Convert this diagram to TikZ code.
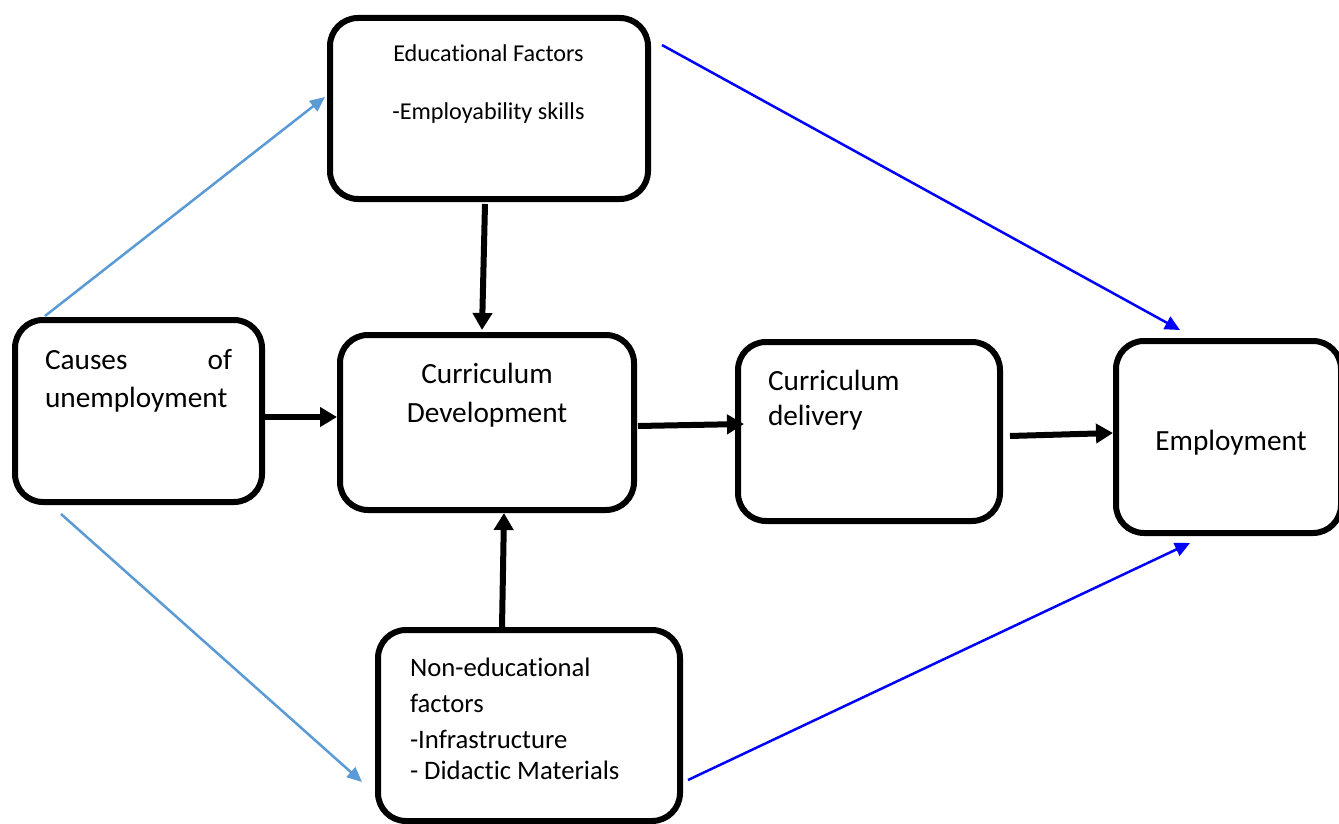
\documentclass[tikz,border=0pt]{standalone}
\usepackage{fontspec}
\setmainfont{Carlito}[Ligatures=NoCommon]
\usetikzlibrary{arrows.meta,calc}
\definecolor{lightblue}{HTML}{5B9BD5}
\definecolor{pureblue}{HTML}{0000FF}
\tikzset{
  box/.style={draw=black, line width=6pt, rounded corners=28pt, fill=white, outer sep=0pt, inner sep=0pt},
  txt/.style={inner sep=0pt, outer sep=0pt, text=black},
  blackarrow/.style={draw=black, line width=6pt, -{Triangle[length=17pt,width=19pt]}},
  lightarrow/.style={draw=lightblue, line width=2.5pt, -{Triangle[length=15pt,width=13pt]}},
  bluearrow/.style={draw=pureblue, line width=2.5pt, -{Triangle[length=15pt,width=14pt]}}
}
\begin{document}
\begin{tikzpicture}[x=1pt,y=-1pt]
\useasboundingbox (0,0) rectangle (1339,824);
\fill[white] (0,0) rectangle (1339,824);

% boxes
\node[box, minimum width=247pt, minimum height=182pt] (causes) at (138.5,411) {};
\node[box, minimum width=318pt, minimum height=181pt] (edu) at (489,108.5) {};
\node[box, minimum width=294pt, minimum height=175pt] (cd) at (487,422.5) {};
\node[box, minimum width=262pt, minimum height=179pt] (del) at (869,431.5) {};
\node[box, minimum width=225pt, minimum height=192pt] (emp) at (1228.5,437) {};
\node[box, minimum width=302pt, minimum height=191pt] (non) at (529,725.5) {};

% texts (base anchor = baseline of the last line)
\node[txt, anchor=base west, align=left, font=\fontsize{29.3}{38}\selectfont] (causestxt) at (45,407)
  {\hbox to 187pt{Causes\hfill of}\\unemployment};
\node[txt, font=\fontsize{24.2}{29}\selectfont, anchor=base, align=center] (edutxt) at (488.5,120)
  {Educational Factors\\[29pt]-Employability skills};
\node[txt, anchor=base, align=center, font=\fontsize{29.3}{39}\selectfont] (cdtxt) at (487,422)
  {Curriculum\\Development};
\node[txt, anchor=base west, align=left, font=\fontsize{29.3}{35}\selectfont] (deltxt) at (768,425)
  {Curriculum\\delivery};
\node[txt, anchor=base, font=\fontsize{29.3}{38}\selectfont] (emptxt) at (1231,450) {Employment};
\node[txt, anchor=base west, align=left, font=\fontsize{26.7}{36}\selectfont] (nontxt) at (410,779)
  {Non-educational\\factors\\-Infrastructure\\[-5pt]- Didactic Materials};

% black connectors
\draw[blackarrow] ($(causes.east)+(3,6)$) -- ($(cd.west)+(-3,-5.5)$);
\draw[blackarrow] ($(cd.east)+(4,3.5)$) -- ($(del.west)+(6,-7.5)$);
\draw[blackarrow] ($(del.east)+(10,4.5)$) -- ($(emp.west)+(-3,-4)$);
\draw[blackarrow] ($(edu.south)+(-4,5)$) -- ($(cd.north)+(-5,-5)$);
\draw[blackarrow] ($(non.north)+(-27,-2)$) -- ($(cd.south)+(17,3)$);

% light blue connectors
\draw[lightarrow] ($(causes.north)+(-93.5,-4)$) -- ($(edu.west)+(-5,-11.5)$);
\draw[lightarrow] ($(causes.south)+(-77.5,12)$) -- ($(non.west)+(-16,56.5)$);

% blue connectors
\draw[bluearrow] ($(edu.east)+(14,-63.5)$) -- ($(emp.north)+(-48.5,-11)$);
\draw[bluearrow] ($(non.east)+(8,54.5)$) -- ($(emp.south)+(-38.5,10)$);
\end{tikzpicture}
\end{document}
